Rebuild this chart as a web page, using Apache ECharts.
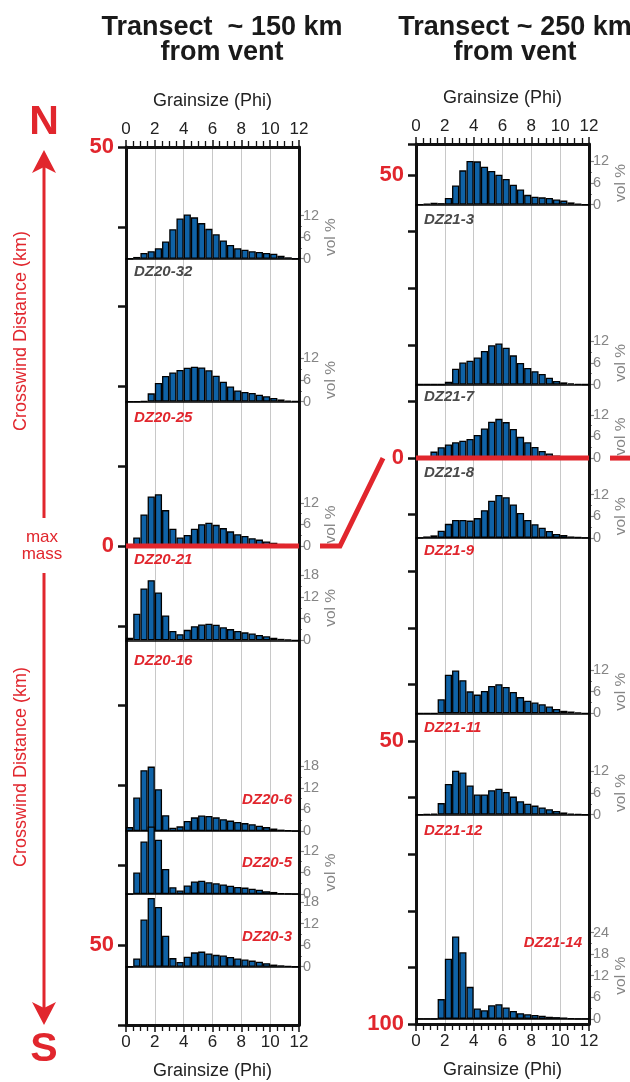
<!DOCTYPE html>
<html>
<head>
<meta charset="utf-8">
<script src="https://cdn.jsdelivr.net/npm/echarts@6/dist/echarts.min.js"></script>
<style>
html,body{margin:0;padding:0;background:#fff;}
#c{width:630px;height:1082px;}
</style>
</head>
<body>
<div id="c"></div>
<script>
// ---------------- DATA ----------------
const phiBins = ['0','0.5','1','1.5','2','2.5','3','3.5','4','4.5','5','5.5','6','6.5','7','7.5','8','8.5','9','9.5','10','10.5','11','11.5'];

// Transect ~150 km (left column)
const leftSamples  = ['DZ20-32','DZ20-25','DZ20-21','DZ20-16','DZ20-6','DZ20-5','DZ20-3'];
const leftDistance = [36.0, 18.1, 0, -11.8, -35.7, -43.6, -52.7];   // crosswind km (N +, S -)
const leftVolMax   = [12, 12, 12, 18, 18, 12, 18];
const leftDistanceTicks = [50, 0, -50];

// Transect ~250 km (right column)
const rightSamples  = ['DZ21-3','DZ21-7','DZ21-8','DZ21-9','DZ21-11','DZ21-12','DZ21-14'];
const rightDistance = [44.8, 13.0, 0, -14.1, -45.1, -63.0, -99.1];
const rightVolMax   = [12, 12, 12, 12, 12, 12, 24];
const rightDistanceTicks = [50, 0, -50, -100];

// vol % per half-phi bin
const DZ20_32 = [0, 0.5, 1.6, 2.1, 2.9, 4.8, 8.2, 11.2, 12.3, 11.5, 9.9, 8.3, 6.8, 5.1, 3.8, 2.9, 2.5, 2.1, 1.9, 1.6, 1.4, 0.8, 0.4, 0];
const DZ20_25 = [0, 0, 0.1, 2.3, 5.2, 7.1, 8.1, 8.8, 9.4, 9.7, 9.5, 8.7, 7.2, 5.5, 4.2, 3.1, 2.7, 2.4, 1.9, 1.5, 1.0, 0.6, 0.3, 0.1];
const DZ20_21 = [0, 2.4, 8.8, 13.8, 14.4, 10.0, 4.8, 2.4, 3.1, 4.8, 6.1, 6.5, 5.9, 5.0, 4.1, 3.3, 2.8, 2.2, 1.8, 1.3, 0.9, 0.6, 0.3, 0.1];
const DZ20_16 = [0.7, 7.4, 14.4, 16.7, 13.3, 6.9, 2.6, 1.7, 2.9, 3.9, 4.4, 4.6, 4.3, 3.6, 3.1, 2.6, 2.2, 1.9, 1.5, 1.1, 0.7, 0.4, 0.2, 0];
const DZ20_6  = [1.1, 9.3, 16.9, 17.9, 11.6, 4.4, 0.9, 1.3, 2.8, 3.8, 4.3, 4.2, 3.8, 3.3, 2.9, 2.5, 2.2, 1.9, 1.5, 1.1, 0.7, 0.4, 0.2, 0];
const DZ20_5  = [0, 6.0, 14.6, 18.8, 15.1, 7.0, 1.9, 1.0, 2.4, 3.5, 3.7, 3.3, 3.0, 2.7, 2.3, 2.0, 1.8, 1.5, 1.2, 0.8, 0.6, 0.3, 0.1, 0];
const DZ20_3  = [0, 2.3, 13.1, 19.1, 16.6, 8.6, 2.4, 1.3, 2.8, 4.0, 4.2, 3.7, 3.3, 3.1, 2.7, 2.3, 2.0, 1.7, 1.4, 1.0, 0.6, 0.4, 0.2, 0];

const DZ21_3  = [0, 0.2, 0.5, 0.4, 1.8, 5.3, 9.5, 12.1, 12.0, 10.5, 9.3, 8.3, 7.1, 5.5, 4.2, 2.7, 2.2, 2.0, 1.8, 1.4, 1.1, 0.6, 0.2, 0];
const DZ21_7  = [0, 0, 0, 0, 0.8, 4.4, 6.1, 6.6, 7.5, 9.3, 10.9, 11.4, 10.2, 8.1, 6.0, 4.6, 3.7, 2.9, 1.9, 1.0, 0.6, 0.3, 0.1, 0];
const DZ21_8  = [0, 0, 1.8, 3.0, 3.8, 4.4, 4.8, 5.3, 6.4, 8.2, 10.1, 10.9, 10.0, 8.1, 5.9, 4.4, 3.1, 2.0, 1.3, 0.7, 0.5, 0.2, 0, 0];
const DZ21_9  = [0, 0.4, 0.7, 2.0, 3.9, 5.0, 5.0, 4.8, 5.5, 7.7, 10.3, 11.9, 11.3, 9.3, 6.9, 5.0, 3.8, 2.8, 1.9, 1.1, 0.8, 0.4, 0.2, 0];
const DZ21_11 = [0, 0, 0, 3.9, 10.7, 11.9, 9.2, 6.1, 5.2, 6.2, 7.6, 8.1, 7.3, 5.9, 4.5, 3.5, 3.0, 2.5, 1.9, 1.2, 0.7, 0.5, 0.2, 0];
const DZ21_12 = [0, 0.1, 0.3, 3.2, 8.5, 12.2, 11.7, 8.1, 5.6, 5.6, 6.8, 7.2, 6.3, 5.0, 3.7, 3.0, 2.5, 2.0, 1.5, 1.0, 0.6, 0.3, 0.1, 0];
const DZ21_14 = [0, 0, 0, 5.5, 16.7, 22.9, 18.5, 8.9, 2.9, 2.4, 3.8, 4.1, 3.2, 2.2, 1.6, 1.3, 1.1, 0.9, 0.6, 0.5, 0.4, 0.2, 0, 0];

const sampleValues = {
  'DZ20-32': DZ20_32, 'DZ20-25': DZ20_25, 'DZ20-21': DZ20_21, 'DZ20-16': DZ20_16,
  'DZ20-6': DZ20_6, 'DZ20-5': DZ20_5, 'DZ20-3': DZ20_3,
  'DZ21-3': DZ21_3, 'DZ21-7': DZ21_7, 'DZ21-8': DZ21_8, 'DZ21-9': DZ21_9,
  'DZ21-11': DZ21_11, 'DZ21-12': DZ21_12, 'DZ21-14': DZ21_14
};

// ---------------- STYLE ----------------
const FONT = '"Liberation Sans", Arial, Helvetica, sans-serif';
const RED = '#e1262d';
const LABEL_GRAY = '#4a4a4a';
const AXIS_GRAY = '#858585';
const BAR_BLUE = '#0f62a6';
const PX_PER_PCT = 3.6;

const leftLabelStyle = [
  {pos:'below', dy:13, color:LABEL_GRAY, vol:true},
  {pos:'below', dy:16, color:RED, vol:true},
  {pos:'below', dy:14, color:RED, vol:true},
  {pos:'below', dy:21, color:RED, vol:true},
  {pos:'above', dy:-31, color:RED, vol:false},
  {pos:'above', dy:-31, color:RED, vol:true},
  {pos:'above', dy:-30, color:RED, vol:false}
];
const rightLabelStyle = [
  {pos:'below', dy:15, color:LABEL_GRAY, vol:true},
  {pos:'below', dy:12, color:LABEL_GRAY, vol:true},
  {pos:'below', dy:15, color:LABEL_GRAY, vol:true},
  {pos:'below', dy:13, color:RED, vol:true},
  {pos:'below', dy:15, color:RED, vol:true},
  {pos:'below', dy:16, color:RED, vol:true},
  {pos:'above', dy:-76, color:RED, vol:true}
];

const frames = [
  {left:126, top:147, width:173, height:878, min:-60, max:50, ticks:leftDistanceTicks},
  {left:416, top:144, width:173, height:880, min:-100, max:55.5, ticks:rightDistanceTicks}
];

const chart = echarts.init(document.getElementById('c'), null, {renderer:'canvas', width:630, height:1082});

const grids = [], xAxes = [], yAxes = [], series = [], graphics = [];

function phiAxis(gi, position, withSplit) {
  return {
    type:'value', gridIndex:gi, position:position, min:0, max:12, interval:2,
    axisLine:{show:true, onZero:false, lineStyle:{color:'#111', width:3}},
    axisTick:{show:true, length:7, lineStyle:{color:'#111', width:1.5}},
    minorTick:{show:true, splitNumber:4, length:6, lineStyle:{color:'#111', width:1.3}},
    axisLabel:{fontSize:17, color:'#222', margin:9, fontFamily:FONT},
    splitLine:{show:withSplit, lineStyle:{color:'#c8c8c8', width:1}},
    minorSplitLine:{show:false},
    name:'Grainsize (Phi)', nameLocation:'middle', nameGap:37,
    nameTextStyle:{fontSize:18, color:'#222', fontFamily:FONT},
    z:1
  };
}

frames.forEach((f, i) => {
  grids.push({left:f.left, top:f.top, width:f.width, height:f.height, containLabel:false, outerBoundsMode:'none'});
  xAxes.push(phiAxis(i, 'top', true));
  xAxes.push(phiAxis(i, 'bottom', false));
  yAxes.push({
    type:'value', gridIndex:i, position:'left', min:f.min, max:f.max, interval:10,
    axisLine:{show:true, onZero:false, lineStyle:{color:'#111', width:3}},
    axisTick:{show:true, length:8, lineStyle:{color:'#111', width:2.5}},
    axisLabel:{
      margin:12, color:RED, fontSize:22, fontWeight:'bold', fontFamily:FONT,
      formatter: v => (f.ticks.indexOf(v) >= 0 ? String(Math.abs(v)) : '')
    },
    splitLine:{show:false}, z:1
  });
  yAxes.push({
    type:'value', gridIndex:i, position:'right', min:f.min, max:f.max, interval:10,
    axisLine:{show:true, onZero:false, lineStyle:{color:'#111', width:3}},
    axisTick:{show:false}, axisLabel:{show:false}, splitLine:{show:false}, z:1
  });
});

chart.setOption({animation:false, grid:grids, xAxis:xAxes, yAxis:yAxes, series:[]});

const zeroY = [];
function addColumn(fi, names, dists, vmaxes, styles) {
  const f = frames[fi];
  zeroY[fi] = chart.convertToPixel({gridIndex:fi}, [0, 0])[1];
  names.forEach((name, k) => {
    const y0 = chart.convertToPixel({gridIndex:fi}, [0, dists[k]])[1];
    const vmax = vmaxes[k];
    const st = styles[k];
    const gi = grids.length;
    grids.push({left:f.left, top:y0 - vmax * PX_PER_PCT, width:f.width, height:vmax * PX_PER_PCT, containLabel:false, outerBoundsMode:'none'});
    const xi = xAxes.length, yi = yAxes.length;
    xAxes.push({
      type:'category', gridIndex:gi, data:phiBins, boundaryGap:true,
      axisLine:{show:true, onZero:false, lineStyle:{color:'#000', width:1.6}},
      axisTick:{show:false}, axisLabel:{show:false}, splitLine:{show:false}, z:3
    });
    yAxes.push({
      type:'value', gridIndex:gi, position:'right', min:0, max:vmax, interval:6,
      axisLine:{show:false, onZero:false},
      axisTick:{show:true, length:5, lineStyle:{color:AXIS_GRAY, width:1.2}},
      minorTick:{show:true, splitNumber:2, length:3, lineStyle:{color:AXIS_GRAY, width:1}},
      axisLabel:{color:AXIS_GRAY, fontSize:14.5, margin:4, fontFamily:FONT},
      splitLine:{show:false}, minorSplitLine:{show:false},
      name: st.vol ? 'vol %' : '', nameLocation:'middle', nameRotate:90, nameGap:23,
      nameTextStyle:{color:AXIS_GRAY, fontSize:15.5, fontFamily:FONT}
    });
    series.push({
      type:'bar', name:name, xAxisIndex:xi, yAxisIndex:yi, data:sampleValues[name],
      barCategoryGap:'0%', barGap:'0%', clip:false, silent:true, z:4,
      itemStyle:{color:BAR_BLUE, borderColor:'#000', borderWidth:1.3}
    });
    const below = st.pos === 'below';
    graphics.push({
      type:'text', z:120, silent:true,
      x: below ? f.left + 8 : f.left + f.width - 7,
      y: y0 + st.dy,
      style:{
        text:name, fill:st.color, fontSize:15, fontWeight:'bold', fontStyle:'italic', fontFamily:FONT,
        align: below ? 'left' : 'right', textAlign: below ? 'left' : 'right',
        verticalAlign:'middle', textVerticalAlign:'middle'
      }
    });
  });
}

addColumn(0, leftSamples, leftDistance, leftVolMax, leftLabelStyle);
addColumn(1, rightSamples, rightDistance, rightVolMax, rightLabelStyle);

function text(t, x, y, size, opts) {
  opts = opts || {};
  return Object.assign({
    type:'text', x:x, y:y, z:120, silent:true,
    style:{
      text:t, fill: opts.fill || '#1a1a1a', fontSize:size, fontWeight: opts.weight || 'normal',
      fontFamily:FONT, align:'center', textAlign:'center', verticalAlign:'middle', textVerticalAlign:'middle',
      lineHeight: opts.lineHeight || size * 1.1
    }
  }, opts.rotation ? {rotation: opts.rotation} : {});
}

const L = frames[0], R = frames[1];
const lRight = L.left + L.width, rRight = R.left + R.width;

// Titles
graphics.push(text('Transect  ~ 150 km', 222, 28, 27, {weight:'bold'}));
graphics.push(text('from vent', 222, 53, 27, {weight:'bold'}));
graphics.push(text('Transect ~ 250 km', 515, 28, 27, {weight:'bold'}));
graphics.push(text('from vent', 515, 53, 27, {weight:'bold'}));

// N / S arrow
graphics.push(text('N', 44, 123, 41, {weight:'bold', fill:RED}));
graphics.push(text('S', 44, 1050, 41, {weight:'bold', fill:RED}));
graphics.push({type:'line', z:110, silent:true, shape:{x1:44, y1:166, x2:44, y2:518}, style:{stroke:RED, lineWidth:3}});
graphics.push({type:'line', z:110, silent:true, shape:{x1:44, y1:573, x2:44, y2:1008}, style:{stroke:RED, lineWidth:3}});
graphics.push({type:'polygon', z:111, silent:true, shape:{points:[[44,150],[56,173],[44,167],[32,173]]}, style:{fill:RED}});
graphics.push({type:'polygon', z:111, silent:true, shape:{points:[[44,1025],[56,1002],[44,1008],[32,1002]]}, style:{fill:RED}});
graphics.push(text('max\nmass', 42, 546, 17, {fill:RED, lineHeight:17}));
graphics.push(text('Crosswind Distance (km)', 21, 331, 18, {fill:RED, rotation:Math.PI/2}));
graphics.push(text('Crosswind Distance (km)', 21, 767, 18, {fill:RED, rotation:Math.PI/2}));

// Max-mass (0 km) red line and connector
graphics.push({type:'line', z:115, silent:true, shape:{x1:L.left, y1:zeroY[0], x2:lRight, y2:zeroY[0]}, style:{stroke:RED, lineWidth:5}});
graphics.push({type:'polyline', z:115, silent:true, shape:{points:[[lRight+21, zeroY[0]],[lRight+41, zeroY[0]],[R.left-33, zeroY[1]]]}, style:{stroke:RED, lineWidth:5, fill:null}});
graphics.push({type:'line', z:115, silent:true, shape:{x1:R.left, y1:zeroY[1], x2:rRight, y2:zeroY[1]}, style:{stroke:RED, lineWidth:5}});
graphics.push({type:'line', z:115, silent:true, shape:{x1:rRight+21, y1:zeroY[1], x2:rRight+41, y2:zeroY[1]}, style:{stroke:RED, lineWidth:5}});

chart.setOption({animation:false, grid:grids, xAxis:xAxes, yAxis:yAxes, series:series, graphic:graphics});
</script>
</body>
</html>
